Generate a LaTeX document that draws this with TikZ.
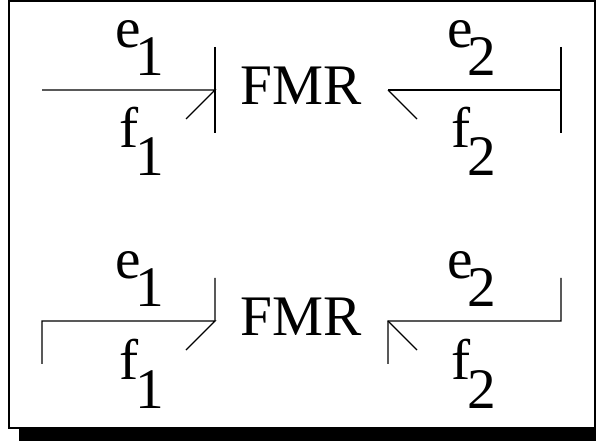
\documentclass[tikz,border=0pt]{standalone}
\usepackage{fontspec}
\setmainfont{Liberation Serif}
\newcommand{\lowidx}[2]{\kern#1\raisebox{-21pt}{#2}}
\tikzset{
	bondlabel/.style={font=\fontsize{43}{43}\selectfont, inner sep=0pt},
	bondline/.style={line width=1pt, line cap=butt},
}
\begin{document}
\begin{tikzpicture}[x=1pt, y=-1pt, line join=miter, scale=.75]
	% Page and frame
	\useasboundingbox (0,0) rectangle (596,441);
	\fill[black] (19,428) rectangle (596,441);
	\draw[line width=1.5pt] (9,1) rectangle (595,428);

	% Upper row
	\coordinate (a1) at (42,90);
	\coordinate (b1) at (215,90);
	\coordinate (c1) at (388,90);
	\coordinate (d1) at (561,90);
	\draw[bondline] (a1) -- (b1) -- +(-29,29);
	\draw[bondline] (215,47) -- (215,133);
	\draw[bondline] (c1) -- (d1);
	\draw[bondline] (c1) -- +(29,29);
	\draw[bondline] (561,47) -- (561,133);
	\node[bondlabel, anchor=base] (fmrA) at (301,105) {FMR};
	\node[bondlabel, anchor=base west] (eA) at (115.5,48) {e\lowidx{-4.2pt}{1}};
	\node[bondlabel, anchor=base west] (fA) at (119,148) {f\lowidx{-2.5pt}{1}};
	\node[bondlabel, anchor=base west] (eB) at (447.5,48) {e\lowidx{-4.2pt}{2}};
	\node[bondlabel, anchor=base west] (fB) at (451,148) {f\lowidx{-2.5pt}{2}};

	% Lower row
	\coordinate (a2) at (42,321);
	\coordinate (b2) at (215,321);
	\coordinate (c2) at (388,321);
	\coordinate (d2) at (561,321);
	\draw[bondline] (42,364) -- (a2) -- (b2) -- +(-29,29);
	\draw[bondline] (215,278) -- (b2);
	\draw[bondline] (388,364) -- (c2) -- (d2) -- (561,278);
	\draw[bondline] (c2) -- +(29,29);
	\node[bondlabel, anchor=base] (fmrB) at (301,336) {FMR};
	\node[bondlabel, anchor=base west] (eC) at (115.5,279) {e\lowidx{-4.2pt}{1}};
	\node[bondlabel, anchor=base west] (fC) at (119,380) {f\lowidx{-2.5pt}{1}};
	\node[bondlabel, anchor=base west] (eD) at (447.5,279) {e\lowidx{-4.2pt}{2}};
	\node[bondlabel, anchor=base west] (fD) at (451,380) {f\lowidx{-2.5pt}{2}};
\end{tikzpicture}
\end{document}
